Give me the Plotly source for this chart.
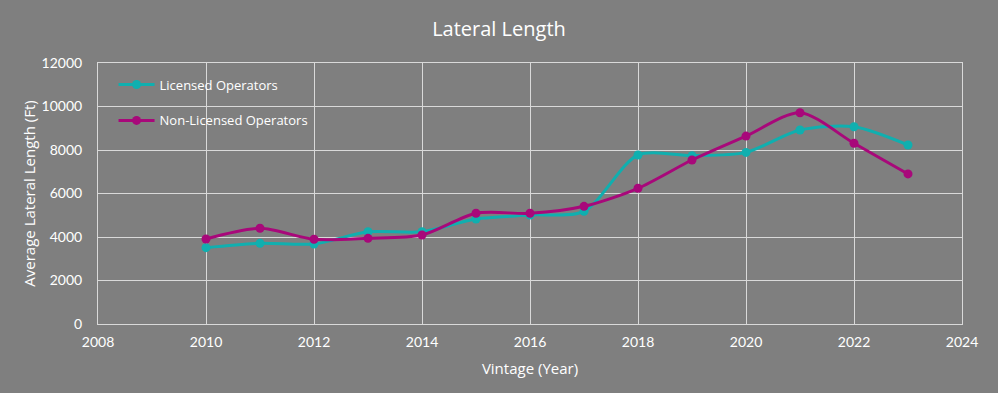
import plotly.graph_objects as go

years = [2010, 2011, 2012, 2013, 2014, 2015, 2016, 2017, 2018, 2019, 2020, 2021, 2022, 2023]
licensed = [3510, 3710, 3680, 4240, 4240, 4830, 5010, 5180, 7770, 7740, 7890, 8920, 9070, 8230]
non_licensed = [3910, 4400, 3895, 3940, 4090, 5090, 5090, 5410, 6240, 7540, 8640, 9715, 8310, 6900]

x_ticks = list(range(2008, 2025, 2))
y_ticks = list(range(0, 12001, 2000))

teal = "#10AFAF"
magenta = "#A8087A"
tick_font = "Lato, sans-serif"
text_font = "'Open Sans', sans-serif"
grid = "#d9d9d9"

fig = go.Figure()
fig.add_trace(go.Scatter(
    x=years, y=licensed, name="Licensed Operators", mode="lines+markers",
    line=dict(color=teal, width=3, shape="spline", smoothing=0.8),
    marker=dict(color=teal, size=9), legendgroup="a"))
fig.add_trace(go.Scatter(
    x=years, y=non_licensed, name="Non-Licensed Operators", mode="lines+markers",
    line=dict(color=magenta, width=3, shape="spline", smoothing=0.8),
    marker=dict(color=magenta, size=9), legendgroup="b"))

fig.update_layout(
    width=998, height=393,
    paper_bgcolor="#7f7f7f", plot_bgcolor="#7f7f7f",
    margin=dict(l=98, r=36, t=63, b=69),
    font=dict(family=tick_font, color="white", size=14),
    title=dict(text="Lateral Length", x=0.5, xanchor="center", y=0.925, yanchor="middle",
               font=dict(size=20, color="white", family=text_font)),
    showlegend=True,
    legend=dict(x=0.018, y=0.975, xanchor="left", yanchor="top", bgcolor="rgba(0,0,0,0)",
                font=dict(size=13, color="white", family=text_font), tracegroupgap=16,
                traceorder="grouped", itemwidth=36),
    xaxis=dict(range=[2008, 2024], tickvals=x_ticks, ticktext=[str(v) for v in x_ticks],
               showgrid=True, gridcolor=grid, gridwidth=1, zeroline=False,
               showline=True, linecolor=grid, linewidth=1, mirror=True,
               ticks="", ticklabelstandoff=5, tickfont=dict(size=14, color="white"),
               title=dict(text="Vintage (Year)", font=dict(size=15, color="white", family=text_font),
                          standoff=14)),
    yaxis=dict(range=[0, 12000], tickvals=y_ticks, ticktext=[str(v) for v in y_ticks],
               showgrid=True, gridcolor=grid, gridwidth=1, zeroline=False,
               showline=True, linecolor=grid, linewidth=1, mirror=True,
               ticks="", ticklabelstandoff=12, tickfont=dict(size=14, color="white"),
               title=dict(text="Average Lateral Length (Ft)",
                          font=dict(size=15, color="white", family=text_font), standoff=2)),
)

fig.write_html("out.html", config={"displayModeBar": False},
               post_script="document.body.style.margin='0';")
